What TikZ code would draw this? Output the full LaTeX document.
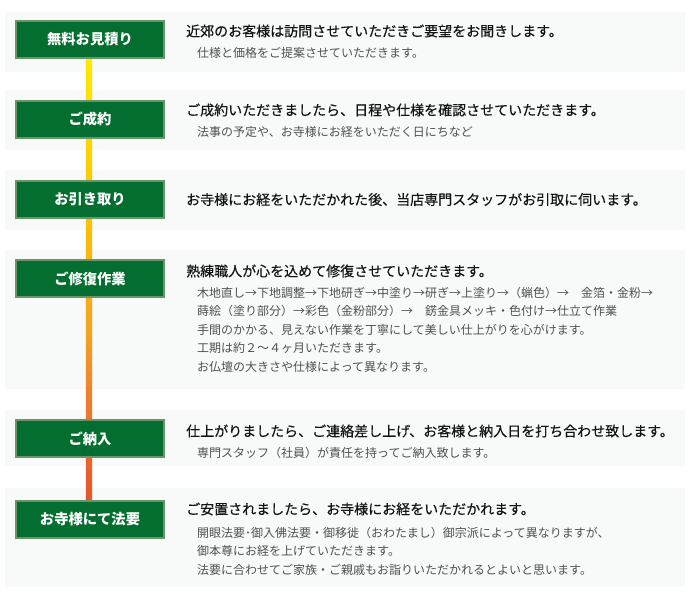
\documentclass[tikz,border=0pt]{standalone}
\usepackage{fontspec}
\setmainfont{Noto Sans CJK JP}
\newfontfamily\jpmed[FakeBold=0.35]{Noto Sans CJK JP}
\usetikzlibrary{calc}
\definecolor{panelgray}{HTML}{F8F9F9}
\definecolor{boxgreen}{HTML}{036E30}
\definecolor{boxedge}{HTML}{6A946A}
\definecolor{titlecol}{HTML}{141414}
\definecolor{subcol}{HTML}{505050}
\definecolor{cA}{HTML}{FFEA00}
\definecolor{cB}{HTML}{FBC600}
\definecolor{cC}{HTML}{F5A41E}
\definecolor{cD}{HTML}{EF7D2E}
\definecolor{cE}{HTML}{E8532A}
\pgfdeclareverticalshading{barshade}{18bp}{color(0bp)=(cE); color(25bp)=(cE); color(36.4bp)=(cD); color(44.3bp)=(cC); color(59.1bp)=(cB); color(75bp)=(cA); color(100bp)=(cA)}
\pgfdeclarelayer{back}
\pgfdeclarelayer{mid}
\pgfsetlayers{back,mid,main}
\begin{document}
\begin{tikzpicture}[x=1pt,y=-1pt,
  stagebox/.style={draw=boxedge, line width=2pt, fill=boxgreen, minimum width=148pt, minimum height=37pt, inner sep=0pt, text=white, font=\fontsize{14.3pt}{16pt}\selectfont\bfseries},
  titletext/.style={anchor=west, inner sep=0pt, text=titlecol, font=\jpmed\fontsize{14pt}{16pt}\selectfont},
  subtext/.style={anchor=west, inner sep=0pt, text=subcol, align=left, font=\fontsize{12pt}{18.5pt}\selectfont},
  panel/.style={fill=panelgray}]
\useasboundingbox (0,0) rectangle (690,610);
\begin{pgfonlayer}{back}
\fill[white] (0,0) rectangle (690,610);
\fill[panel] (5,12) rectangle (685,72);
\fill[panel] (5,90) rectangle (685,150);
\fill[panel] (5,170) rectangle (685,230);
\fill[panel] (5,250) rectangle (685,389);
\fill[panel] (5,410) rectangle (685,466);
\fill[panel] (5,488) rectangle (685,587);
\end{pgfonlayer}

\node[stagebox] (box1) at (90,39.5) {無料お見積り};
\node[stagebox] (box2) at (90,119.5) {ご成約};
\node[stagebox] (box3) at (90,199.5) {お引き取り};
\node[stagebox] (box4) at (90,278.5) {ご修復作業};
\node[stagebox] (box5) at (90,438.5) {ご納入};
\node[stagebox] (box6) at (90,519.5) {お寺様にて法要};

\begin{pgfonlayer}{mid}
\shade[shading=barshade] ($(box1.south)+(-10,0)$) rectangle ($(box6.north)+(8,0)$);
\end{pgfonlayer}

\node[titletext] (t1) at (186,31) {近郊のお客様は訪問させていただきご要望をお聞きします。};
\node[subtext] (s1) at (197,53) {仕様と価格をご提案させていただきます。};

\node[titletext] (t2) at (186,110) {ご成約いただきましたら、日程や仕様を確認させていただきます。};
\node[subtext] (s2) at (197,132) {法事の予定や、お寺様にお経をいただく日にちなど};

\node[titletext] (t3) at (186,199.5) {お寺様にお経をいただかれた後、当店専門スタッフがお引取に伺います。};

\node[titletext] (t4) at (186,271) {熟練職人が心を込めて修復させていただきます。};
\node[subtext] (s4) at (197,329.5) {木地直し→下地調整→下地研ぎ→中塗り→研ぎ→上塗り→（蝋色）→　金箔・金粉→\\蒔絵（塗り部分）→彩色（金粉部分）→　錺金具メッキ・色付け→仕立て作業\\手間のかかる、見えない作業を丁寧にして美しい仕上がりを心がけます。\\工期は約２～４ヶ月いただきます。\\お仏壇の大きさや仕様によって異なります。};

\node[titletext] (t5) at (186,431) {仕上がりましたら、ご連絡差し上げ、お客様と納入日を打ち合わせ致します。};
\node[subtext] (s5) at (197,453) {専門スタッフ（社員）が責任を持ってご納入致します。};

\node[titletext] (t6) at (186,509) {ご安置されましたら、お寺様にお経をいただかれます。};
\node[subtext] (s6) at (197,551) {開眼法要･御入佛法要・御移徙（おわたまし）御宗派によって異なりますが、\\御本尊にお経を上げていただきます。\\法要に合わせてご家族・ご親戚もお詣りいただかれるとよいと思います。};
\end{tikzpicture}
\end{document}
